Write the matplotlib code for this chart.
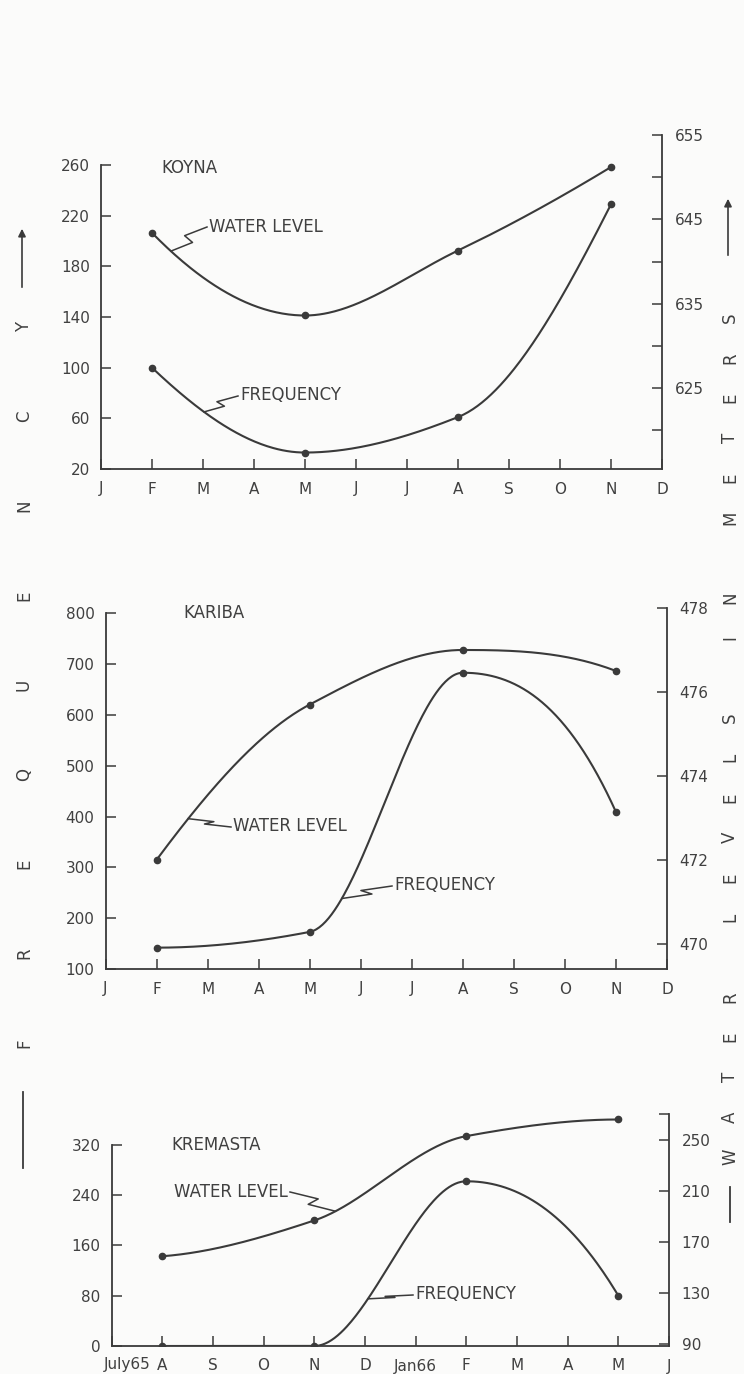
import numpy as np
import matplotlib
matplotlib.use("Agg")
import matplotlib.pyplot as plt
from matplotlib.lines import Line2D
from matplotlib.patches import FancyArrowPatch

# ---------------- data ----------------
months_std = ['J', 'F', 'M', 'A', 'M', 'J', 'J', 'A', 'S', 'O', 'N', 'D']
months_kremasta = ['July65', 'A', 'S', 'O', 'N', 'D', 'Jan66', 'F', 'M', 'A', 'M', 'J']
obs_month_idx = [1, 4, 7, 10]          # months at which values were observed

koyna_freq = [100, 33, 61, 229]
koyna_level = [643.4, 633.6, 641.3, 651.2]
kariba_freq = [142, 173, 683, 409]
kariba_level = [472.0, 475.7, 477.0, 476.5]
kremasta_freq = [0, 0, 262, 80]
kremasta_level = [159, 187, 253, 266]

koyna_freq_ticks = [20, 60, 100, 140, 180, 220, 260]
koyna_level_ticks = [625, 635, 645, 655]
kariba_freq_ticks = [100, 200, 300, 400, 500, 600, 700, 800]
kariba_level_ticks = [470, 472, 474, 476, 478]
kremasta_freq_ticks = [0, 80, 160, 240, 320]
kremasta_level_ticks = [90, 130, 170, 210, 250]

# ---------------- style ----------------
W, H = 744, 1374
INK = '#3a3a3a'
TXT = '#404040'
plt.rcParams['font.family'] = ['DejaVu Sans']

fig = plt.figure(figsize=(W / 100, H / 100), dpi=100)
fig.patch.set_facecolor('#fbfbfa')


def fx(x):
    return x / W


def fy(y):
    return 1 - y / H


def pchip(x, y, xs):
    x = np.asarray(x, float)
    y = np.asarray(y, float)
    h = np.diff(x)
    d = np.diff(y) / h
    n = len(x)
    m = np.zeros(n)
    for k in range(1, n - 1):
        if d[k - 1] * d[k] > 0:
            w1 = 2 * h[k] + h[k - 1]
            w2 = h[k] + 2 * h[k - 1]
            m[k] = (w1 + w2) / (w1 / d[k - 1] + w2 / d[k])

    def end(h0, h1, d0, d1):
        mm = ((2 * h0 + h1) * d0 - h0 * d1) / (h0 + h1)
        if np.sign(mm) != np.sign(d0):
            mm = 0.0
        elif np.sign(d0) != np.sign(d1) and abs(mm) > abs(3 * d0):
            mm = 3 * d0
        return mm

    m[0] = end(h[0], h[1], d[0], d[1])
    m[-1] = end(h[-1], h[-2], d[-1], d[-2])
    xs = np.asarray(xs, float)
    idx = np.clip(np.searchsorted(x, xs) - 1, 0, n - 2)
    t = (xs - x[idx]) / h[idx]
    h00 = 2 * t**3 - 3 * t**2 + 1
    h10 = t**3 - 2 * t**2 + t
    h01 = -2 * t**3 + 3 * t**2
    h11 = t**3 - t**2
    return (h00 * y[idx] + h10 * h[idx] * m[idx] + h01 * y[idx + 1]
            + h11 * h[idx] * m[idx + 1])


def draw_series(ax, yvals):
    xs = np.linspace(obs_month_idx[0], obs_month_idx[-1], 300)
    ax.plot(xs, pchip(obs_month_idx, yvals, xs), color=INK, lw=1.5,
            solid_capstyle='round', zorder=3)
    ax.plot(obs_month_idx, yvals, 'o', color=INK, ms=4.5, zorder=4)


def leader(ax, yvals, xcurve, end_px):
    """zig-zag leader from a point on the curve to a label (pixels)."""
    ycurve = float(pchip(obs_month_idx, yvals, [xcurve])[0])
    sx, sy = ax.transData.transform((xcurve, ycurve))
    sy = H - sy
    ex, ey = end_px
    dx, dy = ex - sx, ey - sy
    pts = [(sx, sy), (sx + 0.60 * dx, sy + 0.36 * dy),
           (sx + 0.38 * dx, sy + 0.64 * dy), (ex, ey)]
    fig.add_artist(Line2D([fx(p[0]) for p in pts], [fy(p[1]) for p in pts],
                          transform=fig.transFigure, color=INK, lw=1.1))


def make_panel(rect_px, xlabels, fticks, flim, lticks, llim, fvals, lvals,
               lminor=None, lextra=None):
    l, r, t, b = rect_px
    ax = fig.add_axes([fx(l), fy(b), (r - l) / W, (b - t) / H])
    ax.set_facecolor('none')
    ax2 = ax.twinx()
    ax.set_xlim(0, 11)
    ax.set_ylim(*flim)
    ax2.set_ylim(*llim)
    for s in ['top', 'right']:
        ax.spines[s].set_visible(False)
    for s in ['top', 'left', 'bottom']:
        ax2.spines[s].set_visible(False)
    ax.spines['left'].set_bounds(flim[0], fticks[-1])
    for sp in list(ax.spines.values()) + list(ax2.spines.values()):
        sp.set_color(INK)
        sp.set_linewidth(1.3)
    ax.set_xticks(range(12))
    ax.set_xticklabels(xlabels)
    ax.set_yticks(fticks)
    ax.set_yticklabels([str(v) for v in fticks])
    ax2.set_yticks(lticks)
    ax2.set_yticklabels([str(v) for v in lticks])
    minor = []
    if lminor:
        minor += list(lminor)
    if lextra:
        minor += list(lextra)
    if minor:
        ax2.set_yticks(minor, minor=True)
    ax.tick_params(axis='both', direction='in', length=7, width=1.1,
                   color=INK, labelcolor=TXT, labelsize=11)
    ax.tick_params(axis='x', pad=9)
    ax.tick_params(axis='y', pad=8)
    ax2.tick_params(axis='y', which='both', direction='in', length=7,
                    width=1.1, color=INK, labelcolor=TXT, labelsize=11, pad=9)
    draw_series(ax, fvals)
    draw_series(ax2, lvals)
    return ax, ax2


# Koyna
k1, k2 = make_panel((101, 662, 135, 469), months_std,
                    koyna_freq_ticks, (20, 283.7),
                    koyna_level_ticks, (615.4, 655),
                    koyna_freq, koyna_level,
                    lminor=[620, 630, 640, 650])
# Kariba
b1, b2 = make_panel((105.5, 667, 608, 969), months_std,
                    kariba_freq_ticks, (100, 810.4),
                    kariba_level_ticks, (469.4, 478.0),
                    kariba_freq, kariba_level)
# Kremasta
m1, m2 = make_panel((111.5, 669, 1114, 1346), months_kremasta,
                    kremasta_freq_ticks, (0, 369),
                    kremasta_level_ticks, (88.8, 270.3),
                    kremasta_freq, kremasta_level, lextra=[270.3])
# first Kremasta month label sits slightly right of its tick in the original
m1.set_xticklabels([''] + months_kremasta[1:])
fig.text(fx(127), fy(1365), months_kremasta[0], fontsize=11, color=TXT,
         ha='center', va='center')

# titles
fig.text(fx(161), fy(168), 'KOYNA', fontsize=12, color=TXT, va='center')
fig.text(fx(183), fy(613), 'KARIBA', fontsize=12, color=TXT, va='center')
fig.text(fx(171), fy(1145), 'KREMASTA', fontsize=12, color=TXT, va='center')

# series labels + leaders
fig.text(fx(209), fy(227), 'WATER LEVEL', fontsize=12, color=TXT, va='center')
leader(k2, koyna_level, 1.37, (207, 227))
fig.text(fx(240), fy(395), 'FREQUENCY', fontsize=12, color=TXT, va='center')
leader(k1, koyna_freq, 2.02, (238, 396))

fig.text(fx(233), fy(826), 'WATER LEVEL', fontsize=12, color=TXT, va='center')
leader(b2, kariba_level, 1.62, (231, 827))
fig.text(fx(394), fy(885), 'FREQUENCY', fontsize=12, color=TXT, va='center')
leader(b1, kariba_freq, 4.63, (392, 886))

fig.text(fx(288), fy(1192), 'WATER LEVEL', fontsize=12, color=TXT,
         va='center', ha='right')
leader(m2, kremasta_level, 4.42, (290, 1192))
fig.text(fx(415), fy(1294), 'FREQUENCY', fontsize=12, color=TXT, va='center')
leader(m1, kremasta_freq, 5.06, (413, 1295))

# vertical side labels
left_word = 'FREQUENCY'
for ch, y in zip(left_word, np.linspace(1043, 327, len(left_word))):
    fig.text(fx(24), fy(y), ch, rotation=90, ha='center', va='center',
             fontsize=12, color=TXT)
right_word = 'WATER LEVELS IN METERS'
for ch, y in zip(right_word, np.linspace(1157, 318, len(right_word))):
    if ch != ' ':
        fig.text(fx(730), fy(y), ch, rotation=90, ha='center', va='center',
                 fontsize=12, color=TXT)

for x, y0, y1 in [(22, 290, 226), (728, 258, 196)]:
    fig.add_artist(FancyArrowPatch((fx(x), fy(y0)), (fx(x), fy(y1)),
                                   transform=fig.transFigure,
                                   arrowstyle='-|>', mutation_scale=11,
                                   color=INK, lw=1.2))
for x, y0, y1 in [(23, 1092, 1168), (730, 1187, 1222)]:
    fig.add_artist(Line2D([fx(x), fx(x)], [fy(y0), fy(y1)],
                          transform=fig.transFigure, color=INK, lw=1.3))

fig.savefig('out.png', dpi=100, facecolor=fig.get_facecolor())
